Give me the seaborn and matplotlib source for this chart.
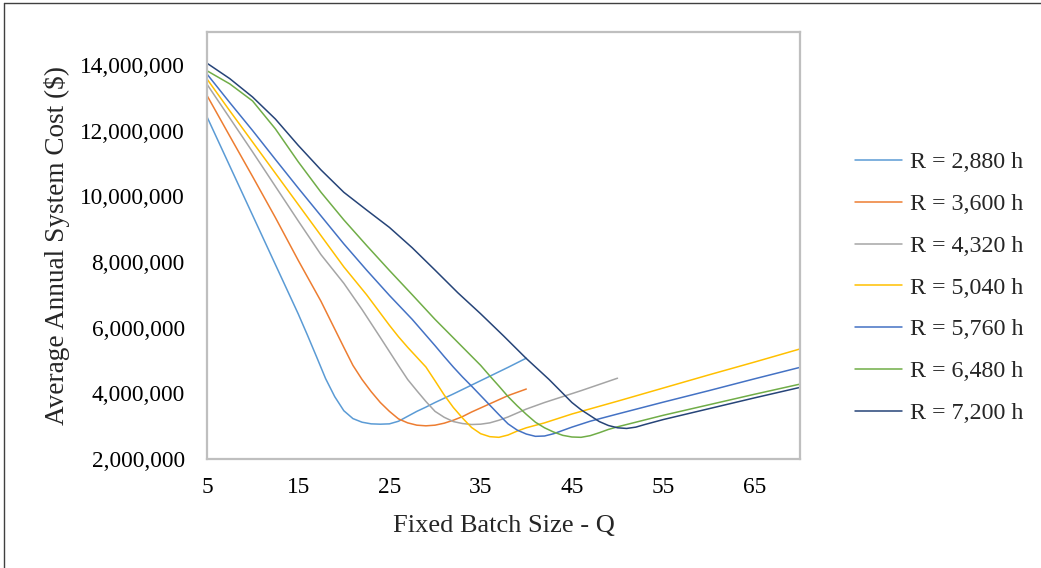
import numpy as np
import pandas as pd
import matplotlib
matplotlib.use("Agg")
import matplotlib.pyplot as plt
from matplotlib.ticker import FuncFormatter, FixedLocator
from matplotlib.lines import Line2D
import seaborn as sns

# Average annual system cost (millions of $) versus fixed batch size Q,
# one series per replacement interval R.
series_labels = ["R = 2,880 h", "R = 3,600 h", "R = 4,320 h", "R = 5,040 h",
                 "R = 5,760 h", "R = 6,480 h", "R = 7,200 h"]

q_2880 = [5, 7.5, 10, 12.5, 15, 16, 17, 18, 19, 20, 21, 22, 23, 24, 25, 26, 27, 28,
          29, 30, 32, 34, 36, 38, 40]
c_2880 = [12.42, 10.92, 9.42, 7.92, 6.42, 5.78, 5.12, 4.45, 3.9, 3.47, 3.23, 3.12,
          3.07, 3.06, 3.07, 3.15, 3.3, 3.45, 3.58, 3.72, 3.98, 4.25, 4.52, 4.79, 5.07]

q_3600 = [5, 7.5, 10, 12.5, 15, 17.5, 20, 21, 22, 23, 24, 25, 26, 27, 28, 29, 30,
          31, 32, 33, 34, 36, 38, 40]
c_3600 = [13.07, 11.83, 10.6, 9.35, 8.05, 6.8, 5.4, 4.85, 4.42, 4.05, 3.72, 3.45,
          3.22, 3.1, 3.03, 3.01, 3.03, 3.09, 3.18, 3.29, 3.43, 3.68, 3.93, 4.13]

q_4320 = [5, 7.5, 10, 12.5, 15, 17.5, 20, 22, 24, 25, 26, 27, 28, 29, 30, 31, 32,
          33, 34, 35, 36, 37, 38, 40, 42, 44, 46, 48, 50]
c_4320 = [13.41, 12.38, 11.35, 10.3, 9.25, 8.22, 7.35, 6.55, 5.7, 5.27, 4.84, 4.42,
          4.08, 3.75, 3.45, 3.27, 3.14, 3.08, 3.05, 3.06, 3.1, 3.18, 3.28, 3.52, 3.72,
          3.9, 4.08, 4.27, 4.46]

q_5040 = [5, 7.5, 10, 12.5, 15, 17.5, 20, 22.5, 25, 26, 27, 28, 29, 30, 31, 32, 33,
          34, 35, 36, 37, 38, 39, 40, 42, 45, 50, 55, 60, 65, 70]
c_5040 = [13.57, 12.6, 11.65, 10.7, 9.75, 8.8, 7.85, 7.0, 6.07, 5.72, 5.4, 5.1,
          4.8, 4.38, 3.95, 3.57, 3.25, 2.96, 2.77, 2.68, 2.66, 2.73, 2.85, 2.95, 3.1,
          3.37, 3.76, 4.16, 4.56, 4.95, 5.35]

q_5760 = [5, 7.5, 10, 12.5, 15, 17.5, 20, 22.5, 25, 27.5, 30, 31, 32, 33, 34, 35, 36,
          37, 38, 39, 40, 41, 42, 43, 44, 45, 47, 50, 55, 60, 65, 70]
c_5760 = [13.72, 12.85, 12.0, 11.12, 10.25, 9.4, 8.55, 7.75, 6.98, 6.25, 5.45, 5.12,
          4.8, 4.5, 4.22, 3.93, 3.64, 3.35, 3.07, 2.88, 2.76, 2.69, 2.7, 2.77, 2.87,
          2.97, 3.15, 3.37, 3.73, 4.08, 4.44, 4.79]

q_6480 = [5, 7.5, 10, 12.5, 15, 17.5, 20, 22.5, 25, 27.5, 30, 32.5, 35, 36, 37, 38,
          39, 40, 41, 42, 43, 44, 45, 46, 47, 48, 49, 50, 55, 60, 65, 70]
c_6480 = [13.82, 13.42, 12.9, 12.05, 11.05, 10.12, 9.28, 8.5, 7.74, 7.0, 6.25, 5.55,
          4.85, 4.53, 4.22, 3.9, 3.62, 3.36, 3.12, 2.95, 2.82, 2.72, 2.67, 2.66, 2.71,
          2.8, 2.9, 2.98, 3.33, 3.65, 3.97, 4.28]

q_7200 = [5, 7.5, 10, 12.5, 15, 17.5, 20, 22.5, 25, 27.5, 30, 32.5, 35, 37.5, 40,
          42.5, 45, 46, 47, 48, 49, 50, 51, 52, 53, 55, 60, 65, 70]
c_7200 = [14.05, 13.58, 13.02, 12.35, 11.55, 10.8, 10.12, 9.58, 9.05, 8.43, 7.75, 7.06,
          6.42, 5.75, 5.06, 4.42, 3.72, 3.5, 3.32, 3.14, 3.02, 2.95, 2.93, 2.97, 3.05,
          3.2, 3.53, 3.86, 4.18]

x_ticks = [5, 15, 25, 35, 45, 55, 65]
y_ticks = [2_000_000, 4_000_000, 6_000_000, 8_000_000, 10_000_000, 12_000_000, 14_000_000]

colors = ["#5B9BD5", "#ED7D31", "#A5A5A5", "#FFC000", "#4472C4", "#70AD47", "#264478"]

all_q = [q_2880, q_3600, q_4320, q_5040, q_5760, q_6480, q_7200]
all_c = [c_2880, c_3600, c_4320, c_5040, c_5760, c_6480, c_7200]

frames = []
for label, q, c in zip(series_labels, all_q, all_c):
    frames.append(pd.DataFrame({"Q": q, "cost": np.array(c) * 1_000_000, "series": label}))
df = pd.concat(frames, ignore_index=True)

sns.set_theme(style="white")
plt.rcParams["font.family"] = ["Liberation Serif", "DejaVu Serif"]

fig = plt.figure(figsize=(10.41, 5.68), dpi=100)
ax = fig.add_axes([0.1988, 0.1919, 0.5697, 0.7518])

sns.lineplot(data=df, x="Q", y="cost", hue="series", hue_order=series_labels,
             palette=colors, sort=False, estimator=None, linewidth=1.1,
             legend=False, ax=ax)

ax.set_xlim(5, 70)
ax.set_ylim(2_000_000, 15_000_000)
ax.xaxis.set_major_locator(FixedLocator(x_ticks))
ax.yaxis.set_major_locator(FixedLocator(y_ticks))
ax.yaxis.set_major_formatter(FuncFormatter(lambda v, _: f"{v:,.0f}"))
ax.tick_params(axis="both", length=0, labelsize=16.8, colors="#000000")
ax.tick_params(axis="x", pad=13)
ax.tick_params(axis="y", pad=16)

for side in ["left", "right", "top", "bottom"]:
    ax.spines[side].set_visible(True)
    ax.spines[side].set_color("#BFBFBF")
    ax.spines[side].set_linewidth(1.6)

ax.set_xlabel("Fixed Batch Size - Q", fontsize=19, labelpad=12)
ax.set_ylabel("Average Annual System Cost ($)", fontsize=19.6, labelpad=7)

handles = [Line2D([0], [0], color=c, lw=1.1) for c in colors]
fig.legend(handles, series_labels, loc="upper left", bbox_to_anchor=(0.812, 0.750),
           frameon=False, fontsize=17.3, handlelength=1.96, handletextpad=0.33,
           labelspacing=0.83, borderaxespad=0)

# thin frame on the left and top edges of the figure
fig.add_artist(Line2D([0.004, 0.004], [0, 0.995], transform=fig.transFigure,
                      color="#404040", lw=1.0))
fig.add_artist(Line2D([0.004, 1.0], [0.995, 0.995], transform=fig.transFigure,
                      color="#404040", lw=1.0))

fig.savefig("out.png", dpi=100)
